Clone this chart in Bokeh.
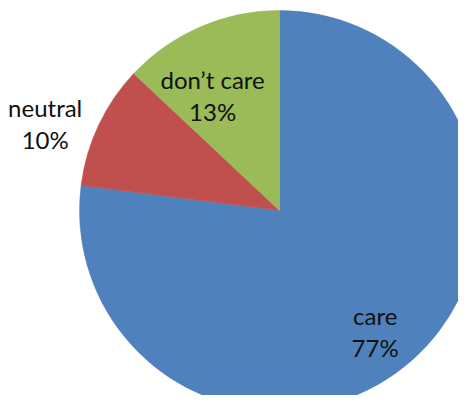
import math
from bokeh.plotting import figure
from bokeh.models import ColumnDataSource, Range1d
from bokeh.core.properties import value
from bokeh.embed import file_html
from bokeh.resources import INLINE

# data
categories = ["care", "neutral", "don\u2019t care"]
shares = [77, 10, 13]
colors = ["#4F81BD", "#C0504D", "#9BBB59"]

W, H = 458, 395
CX, CY, R = 279, H - 210, 200  # pie center/radius in pixel-like data units

# label placement styling (radial factor, angular nudge in degrees clockwise)
label_rf = [0.77, 1.25, 0.665]
label_nudge = [3.0, -4.8, -6.8]
line_gap = 16

total = float(sum(shares))
start_ang, end_ang = [], []
name_x, name_y, pct_x, pct_y, pct_txt = [], [], [], [], []
cum = 0.0
for i, s in enumerate(shares):
    f0 = cum / total
    f1 = (cum + s) / total
    cum += s
    start_ang.append(math.pi / 2 - f1 * 2 * math.pi)
    end_ang.append(math.pi / 2 - f0 * 2 * math.pi)
    mid_cw = (f0 + f1) / 2 * 360 + label_nudge[i]
    rr = label_rf[i] * R
    lx = CX + rr * math.sin(math.radians(mid_cw))
    ly = CY + rr * math.cos(math.radians(mid_cw))
    name_x.append(lx)
    name_y.append(ly + line_gap)
    pct_x.append(lx)
    pct_y.append(ly - line_gap)
    pct_txt.append(f"{round(s / total * 100)}%")

src = ColumnDataSource(dict(start=start_ang, end=end_ang, color=colors))
lab = ColumnDataSource(dict(nx=name_x, ny=name_y, px=pct_x, py=pct_y,
                            name=categories, pct=pct_txt))

p = figure(width=W, height=H, output_backend="svg", toolbar_location=None,
           x_range=Range1d(0, W), y_range=Range1d(0, H),
           min_border=0)
p.axis.visible = False
p.grid.visible = False
p.outline_line_color = None
p.background_fill_color = "white"
p.border_fill_color = "white"

p.wedge(x=CX, y=CY, radius=R, radius_units="screen",
        start_angle="start", end_angle="end", direction="anticlock",
        fill_color="color", line_color="color", line_width=0.5, source=src)

common = dict(text_font=value("Lato"), text_font_size="24px",
              text_color="#111111", text_align="center",
              text_baseline="middle", source=lab)
p.text(x="nx", y="ny", text="name", **common)
p.text(x="px", y="py", text="pct", **common)

open("out.html", "w").write(file_html(p, INLINE))
